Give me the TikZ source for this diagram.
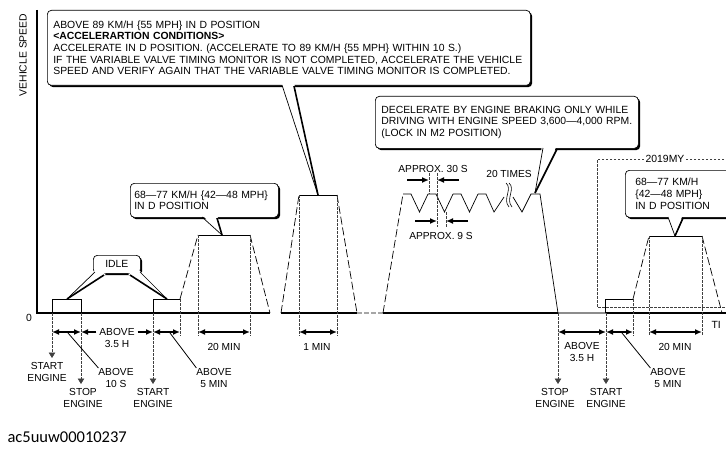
\documentclass[tikz,border=0pt]{standalone}
\usepackage{fontspec}
\setmainfont{Liberation Sans}
\newfontfamily\codefont{Carlito}
\usepackage{tikz}
\usetikzlibrary{arrows.meta,shadows}

\tikzset{
  bubble/.style={draw, line width=0.7pt, fill=white, rounded corners=4pt, align=left,
    inner xsep=6pt, inner ysep=0pt, anchor=north west,
    drop shadow={shadow xshift=1.8pt, shadow yshift=-1.8pt, fill=black, opacity=1}},
  guide/.style={dash pattern=on 2.5pt off 1.5pt, line width=0.6pt, black!75},
  ramp/.style={dash pattern=on 8pt off 3pt, line width=0.7pt},
  span/.style={{Latex[length=7pt,width=6pt]}-{Latex[length=7pt,width=6pt]}, line width=1.6pt},
  half/.style={-{Latex[length=7pt,width=6pt]}, line width=1.6pt},
  drop/.style={guide, -{Triangle[length=5.5pt,width=6.5pt]}, shorten >=4pt},
  lbl/.style={align=center, inner sep=0pt, outer sep=0pt, font=\fontsize{10.2}{12.6}\selectfont},
  axis/.style={line width=1.8pt},
  leader/.style={line width=0.8pt},
}

\begin{document}
\begin{tikzpicture}[x=1pt, y=-1pt, every node/.style={font=\fontsize{10.4}{11.6}\selectfont}]
    \useasboundingbox (0,0) rectangle (726,452);
    \clip (0,0) rectangle (726,452);

    % Axes
    \draw[axis] (37,10) -- (37,313) -- (270,313);
    \draw[axis] (281,313) -- (357,313);
    \draw[black!35, dash pattern=on 5pt off 2pt, line width=1.2pt] (357,313) -- (383,313);
    \draw[axis] (383,313) -- (558,313);
    \draw[black!45, line width=1.2pt] (558,313) -- (606,313);
    \draw[axis] (606,313) -- (730,313);
    \node[rotate=90] (vs) at (23,55) {VEHICLE SPEED};
    \node (zero) at (29,318) {0};
    \node[anchor=west] (ti) at (708,325) {TI};

    % Time marks
    \foreach \n/\x in {1/52, 2/81, 3/153, 4/180, 5/198, 6/250, 7/299, 8/337, 9/558, 10/606, 11/633, 12/649, 13/702} {
        \coordinate (t\n) at (\x,313);
        \coordinate (d\n) at (\x,332);
    }

    % 2019MY frame
    \draw[guide] (740,159) -- (597,159) -- (597,307) -- (740,307);
    \node[fill=white, inner sep=2pt] (my) at (665,159) {2019MY};

    % Speed profile
    \draw[line width=0.7pt] (52,313) rectangle (81,299);
    \draw[line width=0.7pt] (153,313) -- (153,299) -- (180,299);
    \draw[ramp] (180,299) -- (198,235);
    \draw[line width=0.7pt] (198,235) -- (250,235);
    \draw[ramp] (250,235) -- (270,313);
    \draw[ramp] (281,313) -- (299,195);
    \draw[line width=0.7pt] (299,195) -- (337,195);
    \draw[ramp] (337,195) -- (357,313);
    \draw[ramp] (383,313) -- (403,194);
    \foreach \x in {403,428,453} {
        \draw[line width=0.7pt] (\x,194) -- (\x+8,194) -- (\x+16.5,212) -- (\x+25,194);
    }
    \draw[line width=0.7pt] (478,194) -- (486,194) -- (494,212) -- (504,197);
    \draw[line width=0.7pt] (513,197) -- (522,212) -- (531,194) -- (540,194) -- (558,313);
    \draw[line width=0.6pt] (506,183) .. controls (513,189) and (502,199) .. (509,207);
    \draw[line width=0.6pt] (509,183) .. controls (516,189) and (505,199) .. (512,207);
    \draw[line width=0.7pt] (605,313) -- (605,299) -- (633,299);
    \draw[ramp] (633,299) -- (649,236);
    \draw[line width=0.7pt] (649,236) -- (702,236);
    \draw[ramp] (702,236) -- (722,313);

    % Guides
    \foreach \x/\a in {180/299, 198/235, 250/235, 299/195, 337/195, 633/299, 649/236, 702/236} {
        \draw[guide] (\x,\a) -- (\x,336);
    }
    \draw[guide] (429,173) -- (429,194);
    \draw[guide] (437,173) -- (437,227);
    \draw[guide] (446,212) -- (446,227);

    % Spans
    \draw[span] (d1) -- (d2);
    \draw[span] (d3) -- (d4);
    \draw[span] (d5) -- (d6);
    \draw[span] (d7) -- (d8);
    \draw[span] (d9) -- (d10);
    \draw[span] (d10) -- (d11);
    \draw[span] (d12) -- (d13);

    % Labels below the axis
    \node[lbl, anchor=north, inner xsep=3pt] (ab1) at (117,328) {ABOVE\\3.5 H};
    \draw[half] (ab1.west |- d2) -- (d2);
    \draw[half] (ab1.east |- d3) -- (d3);
    \node[lbl, anchor=north] (ab2) at (582,342) {ABOVE\\3.5 H};
    \node[lbl] (m20a) at (224,347) {20 MIN};
    \node[lbl] (m1) at (317,347) {1 MIN};
    \node[lbl] (m20b) at (675,347) {20 MIN};

    \node[lbl, anchor=north] (se1) at (47,362) {START\\ENGINE};
    \node[lbl, anchor=north] (sp1) at (83,388) {STOP\\ENGINE};
    \node[lbl, anchor=north] (se2) at (153,388) {START\\ENGINE};
    \node[lbl, anchor=north] (sp2) at (555,388) {STOP\\ENGINE};
    \node[lbl, anchor=north] (se3) at (606,388) {START\\ENGINE};
    \draw[drop] (t1) -- (t1 |- se1.north);
    \draw[drop] (t2) -- (t2 |- sp1.north);
    \draw[drop] (t3) -- (t3 |- se2.north);
    \draw[drop] (t9) -- (t9 |- sp2.north);
    \draw[drop] (t10) -- (t10 |- se3.north);

    \node[lbl, anchor=north] (ab10) at (116,368) {ABOVE\\10 S};
    \node[lbl, anchor=north] (ab5a) at (214,368) {ABOVE\\5 MIN};
    \node[lbl, anchor=north] (ab5b) at (668,368) {ABOVE\\5 MIN};
    \coordinate (k1) at (68,333);
    \coordinate (k2) at (170,333);
    \coordinate (k3) at (622,333);
    \draw[leader] (k1) -- (ab10.north west);
    \draw[leader] (k2) -- (ab5a.north west);
    \draw[leader] (k3) -- (ab5b.north west);

    % Approx. times
    \node[lbl] (a30) at (433,169) {APPROX. 30 S};
    \draw[half] (407,180) -- (429,180);
    \draw[half] (459,180) -- (437,180);
    \node[lbl] (a9) at (441,236) {APPROX. 9 S};
    \draw[half] (415,221) -- (437,221);
    \draw[half] (468,221) -- (446,221);
    \node[lbl] (x20) at (509,174) {20 TIMES};

    % Callouts
    \node[bubble, text width=471pt, minimum height=75pt] (cond) at (47,10)
        {ABOVE 89 KM/H \{55 MPH\} IN D POSITION\\
         \textbf{<ACCELERARTION CONDITIONS>}\\
         ACCELERATE IN D POSITION. (ACCELERATE TO 89 KM/H \{55 MPH\} WITHIN 10 S.)\\
         IF THE VARIABLE VALVE TIMING MONITOR IS NOT COMPLETED, ACCELERATE THE VEHICLE\\
         SPEED AND VERIFY AGAIN THAT THE VARIABLE VALVE TIMING MONITOR IS COMPLETED.};
    \coordinate (tipA) at (318,195);
    \fill[white] (281,82) -- (tipA) -- (294,82) -- cycle;
    \draw[line width=0.7pt] (282,85) -- (tipA);
    \draw[line width=1.6pt] (294,86) -- (tipA);

    \node[bubble, text width=251pt, minimum height=52pt] (brake) at (375,96)
        {DECELERATE BY ENGINE BRAKING ONLY WHILE\\
         DRIVING WITH ENGINE SPEED 3,600—4,000 RPM.\\
         (LOCK IN M2 POSITION)};
    \coordinate (tipB) at (535,193);
    \fill[white] (542,145) -- (tipB) -- (557,145) -- cycle;
    \draw[line width=0.7pt] (543,148) -- (tipB);
    \draw[line width=1.6pt] (557,149) -- (tipB);

    \node[bubble, inner xsep=4pt, text width=140pt, minimum height=34pt] (dpos1) at (130,183)
        {68—77 KM/H \{42—48 MPH\}\\IN D POSITION};
    \coordinate (tipC) at (222,235);
    \fill[white] (201,214) -- (tipC) -- (217,214) -- cycle;
    \draw[line width=0.7pt] (202,217) -- (tipC);
    \draw[line width=1.6pt] (217,218) -- (tipC);

    \node[bubble, inner xsep=10pt, text width=110pt, minimum height=47pt] (dpos2) at (625,170)
        {68—77 KM/H\\\{42—48 MPH\}\\IN D POSITION};
    \coordinate (tipD) at (675,236);
    \fill[white] (667,214) -- (tipD) -- (683,214) -- cycle;
    \draw[line width=0.7pt] (668,217) -- (tipD);
    \draw[line width=1.6pt] (683,218) -- (tipD);

    \node[bubble, align=center, inner xsep=0pt, minimum width=47pt, minimum height=18pt] (idle) at (93,255) {IDLE};
    \coordinate (tipE) at (67,299);
    \coordinate (tipF) at (167,299);
    \fill[white] (95,270) -- (tipE) -- (106,274) -- cycle;
    \draw[line width=0.7pt] (95,272) -- (tipE);
    \draw[line width=1.6pt] (104,275) -- (tipE);
    \fill[white] (139,270) -- (tipF) -- (128,274) -- cycle;
    \draw[line width=0.7pt] (140,272) -- (tipF);
    \draw[line width=1.6pt] (130,275) -- (tipF);

    % Figure code
    \node[anchor=west, font=\codefont\fontsize{16.5}{18}\selectfont] (code) at (4,437) {ac5uuw00010237};
\end{tikzpicture}
\end{document}
